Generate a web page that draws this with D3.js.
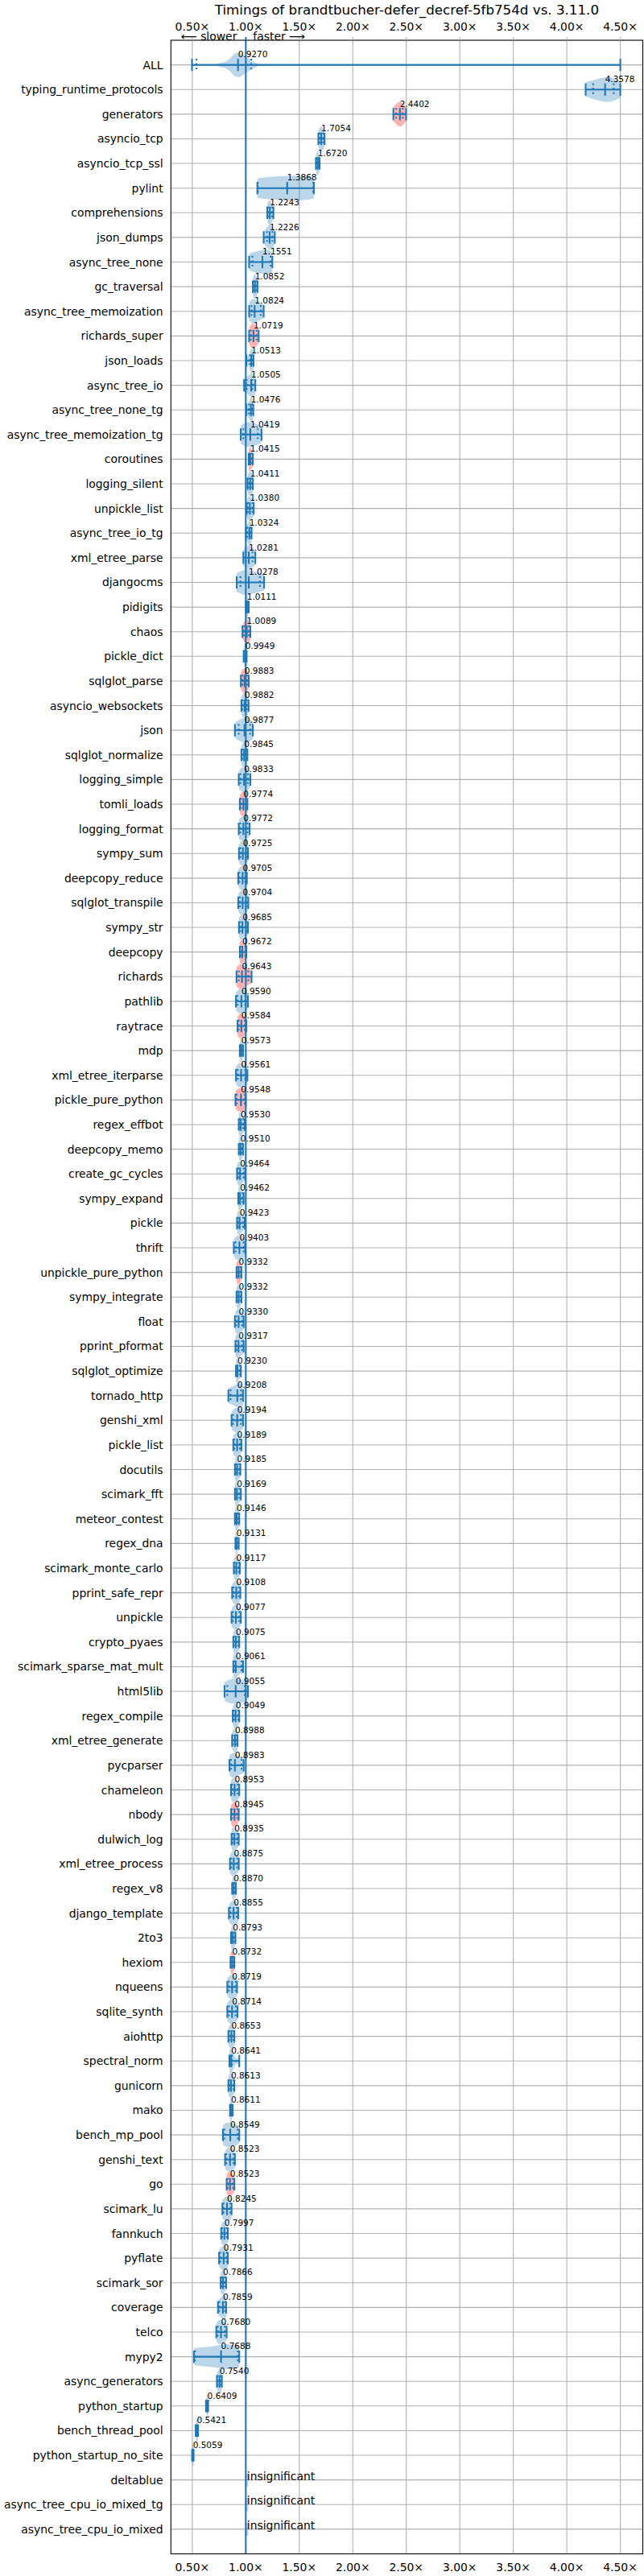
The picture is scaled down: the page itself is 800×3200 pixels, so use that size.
<!DOCTYPE html>
<html><head><meta charset="utf-8">
<script src="https://cdn.jsdelivr.net/npm/d3@7"></script>
<style>body{margin:0;background:#fff}svg{display:block}</style>
</head><body><svg id="c" width="800" height="3200"></svg>
<script>
const title = "Timings of brandtbucher-defer_decref-5fb754d vs. 3.11.0";
const categories = ["ALL","typing_runtime_protocols","generators","asyncio_tcp","asyncio_tcp_ssl","pylint","comprehensions","json_dumps","async_tree_none","gc_traversal","async_tree_memoization","richards_super","json_loads","async_tree_io","async_tree_none_tg","async_tree_memoization_tg","coroutines","logging_silent","unpickle_list","async_tree_io_tg","xml_etree_parse","djangocms","pidigits","chaos","pickle_dict","sqlglot_parse","asyncio_websockets","json","sqlglot_normalize","logging_simple","tomli_loads","logging_format","sympy_sum","deepcopy_reduce","sqlglot_transpile","sympy_str","deepcopy","richards","pathlib","raytrace","mdp","xml_etree_iterparse","pickle_pure_python","regex_effbot","deepcopy_memo","create_gc_cycles","sympy_expand","pickle","thrift","unpickle_pure_python","sympy_integrate","float","pprint_pformat","sqlglot_optimize","tornado_http","genshi_xml","pickle_list","docutils","scimark_fft","meteor_contest","regex_dna","scimark_monte_carlo","pprint_safe_repr","unpickle","crypto_pyaes","scimark_sparse_mat_mult","html5lib","regex_compile","xml_etree_generate","pycparser","chameleon","nbody","dulwich_log","xml_etree_process","regex_v8","django_template","2to3","hexiom","nqueens","sqlite_synth","aiohttp","spectral_norm","gunicorn","mako","bench_mp_pool","genshi_text","go","scimark_lu","fannkuch","pyflate","scimark_sor","coverage","telco","mypy2","async_generators","python_startup","bench_thread_pool","python_startup_no_site","deltablue","async_tree_cpu_io_mixed_tg","async_tree_cpu_io_mixed"];

const medians = [0.9270,4.3578,2.4402,1.7054,1.6720,1.3868,1.2243,1.2226,1.1551,1.0852,1.0824,1.0719,1.0513,1.0505,1.0476,1.0419,1.0415,1.0411,1.0380,1.0324,1.0281,1.0278,1.0111,1.0089,0.9949,0.9883,0.9882,0.9877,0.9845,0.9833,0.9774,0.9772,0.9725,0.9705,0.9704,0.9685,0.9672,0.9643,0.9590,0.9584,0.9573,0.9561,0.9548,0.9530,0.9510,0.9464,0.9462,0.9423,0.9403,0.9332,0.9332,0.9330,0.9317,0.9230,0.9208,0.9194,0.9189,0.9185,0.9169,0.9146,0.9131,0.9117,0.9108,0.9077,0.9075,0.9061,0.9055,0.9049,0.8988,0.8983,0.8953,0.8945,0.8935,0.8875,0.8870,0.8855,0.8793,0.8732,0.8719,0.8714,0.8653,0.8641,0.8613,0.8611,0.8549,0.8523,0.8523,0.8245,0.7997,0.7931,0.7866,0.7859,0.7680,0.7688,0.7540,0.6409,0.5421,0.5059,null,null,null];

const mins = [0.497,4.176,2.379,1.678,1.655,1.108,1.200,1.167,1.031,1.066,1.031,1.031,1.005,0.984,1.004,0.953,1.027,1.016,1.008,1.000,0.977,0.915,1.000,0.969,0.980,0.954,0.959,0.898,0.959,0.934,0.944,0.934,0.936,0.929,0.929,0.936,0.944,0.913,0.908,0.923,0.944,0.908,0.903,0.934,0.934,0.918,0.929,0.918,0.888,0.913,0.913,0.898,0.903,0.908,0.837,0.867,0.883,0.898,0.898,0.898,0.903,0.888,0.872,0.867,0.883,0.883,0.801,0.878,0.872,0.847,0.862,0.862,0.867,0.852,0.872,0.842,0.862,0.857,0.827,0.827,0.837,0.847,0.837,0.852,0.786,0.806,0.821,0.781,0.770,0.750,0.765,0.740,0.724,0.515,0.730,0.628,0.532,0.498,null,null,null];

const qlos = [0.538,4.246,2.405,1.690,1.662,1.112,1.210,1.198,1.062,1.074,1.054,1.047,1.040,1.008,1.030,0.977,1.032,1.025,1.020,1.012,1.000,0.950,1.005,0.985,0.986,0.968,0.968,0.934,0.966,0.950,0.955,0.948,0.950,0.940,0.945,0.948,0.950,0.934,0.923,0.934,0.950,0.925,0.915,0.940,0.940,0.930,0.935,0.928,0.905,0.920,0.920,0.910,0.912,0.913,0.858,0.880,0.893,0.905,0.905,0.905,0.906,0.895,0.885,0.880,0.890,0.895,0.827,0.888,0.880,0.862,0.872,0.872,0.875,0.865,0.877,0.855,0.867,0.862,0.842,0.842,0.845,0.852,0.845,0.855,0.800,0.818,0.830,0.792,0.778,0.762,0.772,0.752,0.738,0.525,0.735,0.632,0.536,0.501,null,null,null];

const qhis = [1.050,4.438,2.467,1.724,1.682,1.630,1.245,1.248,1.233,1.100,1.140,1.101,1.062,1.062,1.060,1.112,1.058,1.058,1.062,1.045,1.062,1.132,1.020,1.030,1.002,1.015,1.010,1.041,1.005,1.020,1.000,1.015,1.005,0.995,1.005,1.005,0.995,1.023,0.995,0.990,0.965,0.995,0.990,0.975,0.965,0.980,0.970,0.975,0.980,0.950,0.950,0.965,0.965,0.945,0.955,0.955,0.945,0.940,0.940,0.930,0.925,0.935,0.935,0.940,0.930,0.960,0.990,0.930,0.915,0.960,0.925,0.920,0.920,0.920,0.900,0.915,0.895,0.885,0.905,0.905,0.885,0.870,0.885,0.870,0.923,0.885,0.880,0.855,0.822,0.820,0.805,0.805,0.805,0.925,0.768,0.645,0.549,0.509,null,null,null];

const maxs = [4.500,4.500,2.498,1.736,1.690,1.636,1.258,1.271,1.248,1.109,1.167,1.120,1.072,1.089,1.070,1.147,1.066,1.066,1.074,1.054,1.089,1.171,1.027,1.043,1.008,1.028,1.026,1.066,1.015,1.043,1.015,1.036,1.020,1.010,1.023,1.020,1.005,1.054,1.020,1.005,0.974,1.015,1.000,0.990,0.974,0.995,0.980,0.990,0.995,0.959,0.959,0.980,0.980,0.954,0.974,0.974,0.959,0.949,0.954,0.939,0.934,0.944,0.949,0.954,0.939,0.974,1.020,0.939,0.923,0.980,0.939,0.934,0.934,0.934,0.908,0.929,0.903,0.893,0.918,0.923,0.893,0.939,0.893,0.878,0.939,0.898,0.893,0.867,0.832,0.832,0.816,0.816,0.821,0.939,0.776,0.648,0.553,0.512,null,null,null];

const redRows = ["generators","richards_super","coroutines","chaos","sqlglot_parse","tomli_loads","deepcopy","richards","raytrace","pickle_pure_python","unpickle_pure_python","nbody","hexiom","go"];
const xTicks = [0.5,1.0,1.5,2.0,2.5,3.0,3.5,4.0,4.5];
const xTickLabels = ["0.50×","1.00×","1.50×","2.00×","2.50×","3.00×","3.50×","4.00×","4.50×"];

const svg = d3.select("#c");
const FONT = "DejaVu Sans";
const L = 212.3, R = 798.5, T = 50, B = 3172.5;
const x = d3.scaleLinear().domain([0.30, 4.71]).range([L, R]);
const y = d3.scalePoint().domain(categories).range([T, B]).padding(1);
const step = y.step();
const BLUE = "#1f77b4";

svg.append("rect").attr("width",800).attr("height",3200).attr("fill","#fff");

// grid
const grid = svg.append("g").attr("stroke","#b0b0b0").attr("stroke-width",1.1);
grid.selectAll("line.v").data(xTicks).join("line")
  .attr("x1",d=>x(d)).attr("x2",d=>x(d)).attr("y1",T).attr("y2",B);
grid.selectAll("line.h").data(categories).join("line")
  .attr("x1",L).attr("x2",R).attr("y1",d=>y(d)).attr("y2",d=>y(d));

// violins
function kde(samples, lo, hi, bw) {
  const n = 90;
  const pts = d3.range(n + 1).map(i => lo + (hi - lo) * i / n);
  const dens = pts.map(p => d3.sum(samples, s => Math.exp(-0.5 * ((p - s) / bw) ** 2)));
  const mx = d3.max(dens) || 1;
  return pts.map((p, i) => ({v: p, w: dens[i] / mx * 0.5}));
}
const vg = svg.append("g");
categories.forEach((c, i) => {
  const yc = y(c);
  if (medians[i] === null) {
    vg.append("rect").attr("x", x(1.0) - 1).attr("width", 4)
      .attr("y", yc - step * 0.27).attr("height", step * 0.54)
      .attr("fill", BLUE).attr("fill-opacity", 0.3);
    return;
  }
  let prof;
  if (i === 0) {
    const samp = medians.slice(1).filter(v => v !== null);
    prof = kde(samp, mins[0], maxs[0], 0.035);
  } else {
    const samp = [mins[i], qlos[i], medians[i], medians[i], qhis[i], maxs[i]];
    const sd = d3.deviation(samp) || 0.005;
    prof = kde(samp, mins[i], maxs[i], sd * Math.pow(samp.length, -0.2));
  }
  const area = d3.area().x(d => x(d.v)).y0(d => yc - d.w * step).y1(d => yc + d.w * step);
  vg.append("path").attr("d", area(prof))
    .attr("fill", redRows.includes(c) ? "red" : BLUE).attr("fill-opacity", 0.3);
});

// lines
const lg = svg.append("g").attr("stroke", BLUE).attr("stroke-width", 2.08).attr("fill","none");
const cap = step * 0.25;
categories.forEach((c, i) => {
  if (medians[i] === null) return;
  const yc = y(c);
  lg.append("line").attr("x1", x(mins[i])).attr("x2", x(maxs[i])).attr("y1", yc).attr("y2", yc);
  [mins[i], maxs[i], medians[i]].forEach(v => {
    lg.append("line").attr("x1", x(v)).attr("x2", x(v)).attr("y1", yc - cap).attr("y2", yc + cap);
  });
  [qlos[i], qhis[i]].forEach(v => {
    lg.append("line").attr("x1", x(v)).attr("x2", x(v)).attr("y1", yc - cap).attr("y2", yc + cap)
      .attr("stroke-dasharray", "2.08,3.44");
  });
});

// axvline at 1.0
svg.append("line").attr("x1", x(1)).attr("x2", x(1)).attr("y1", T).attr("y2", B)
  .attr("stroke", BLUE).attr("stroke-width", 2.08);

// spines
svg.append("rect").attr("x", L).attr("y", T).attr("width", R - L).attr("height", B - T)
  .attr("fill", "none").attr("stroke", "#000").attr("stroke-width", 1.1);

// top ticks
svg.append("g").selectAll("line").data(xTicks).join("line")
  .attr("x1", d => x(d)).attr("x2", d => x(d)).attr("y1", T - 4).attr("y2", T)
  .attr("stroke", d => d === 1.0 ? BLUE : "#b0b0b0").attr("stroke-width", d => d === 1.0 ? 2.08 : 1.1);

// tick labels
const tl = svg.append("g").attr("font-family", FONT).attr("font-size", 13.9).attr("fill", "#000");
tl.selectAll("text.top").data(xTicks).join("text").attr("class","top")
  .attr("x", d => x(d)).attr("y", 38.3).attr("text-anchor", "middle")
  .text((d, i) => xTickLabels[i]);
tl.selectAll("text.bot").data(xTicks).join("text").attr("class","bot")
  .attr("x", d => x(d)).attr("y", 3194).attr("text-anchor", "middle")
  .text((d, i) => xTickLabels[i]);
tl.selectAll("text.cat").data(categories).join("text").attr("class","cat")
  .attr("x", L - 9.7).attr("y", d => y(d) + 5).attr("text-anchor", "end")
  .text(d => d);

// slower / faster
tl.append("text").attr("x", x(1) - 11).attr("y", 49.5).attr("text-anchor", "end").text("⟵ slower");
tl.append("text").attr("x", x(1) + 9).attr("y", 49.5).attr("text-anchor", "start").text("faster ⟶");

// annotations
const an = svg.append("g").attr("font-family", FONT).attr("fill", "#000");
categories.forEach((c, i) => {
  if (medians[i] === null) {
    an.append("text").attr("x", x(1) + 1.5).attr("y", y(c)).attr("font-size", 13.9).text("insignificant");
  } else {
    an.append("text").attr("x", x(medians[i])).attr("y", y(c) - 9.3).attr("font-size", 10.5)
      .text(medians[i].toFixed(4));
  }
});

// title
svg.append("text").attr("x", (L + R) / 2).attr("y", 18.3).attr("text-anchor", "middle")
  .attr("font-family", FONT).attr("font-size", 16.7).attr("fill", "#000").text(title);
</script></body></html>
